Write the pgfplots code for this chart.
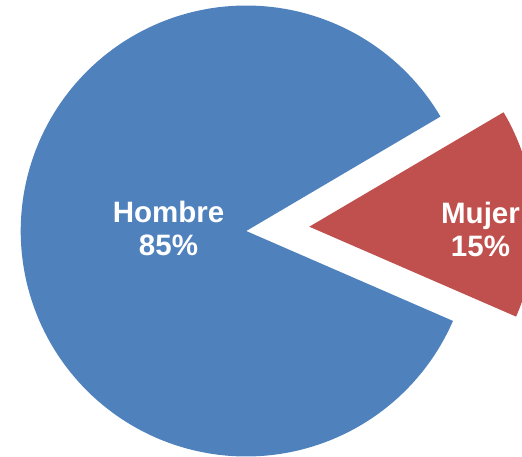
\documentclass[border=0pt]{standalone}
\usepackage{fontspec}
\setmainfont{Liberation Sans}
\usepackage{pgfplots}
\pgfplotsset{compat=1.18}
\definecolor{pieblue}{HTML}{4F81BD}
\definecolor{piered}{HTML}{C0504D}
% data (percent)
\def\valHombre{85}
\def\valMujer{15}
\def\startang{-23.5}
\pgfmathsetmacro{\redend}{\startang+\valMujer*3.6}
\pgfmathsetmacro{\blueend}{\redend+\valHombre*3.6}
\begin{document}
\begin{tikzpicture}
\useasboundingbox (0,0) rectangle (522pt,456pt);
\begin{axis}[x=1pt, y=1pt, anchor=south west, at={(0,0)},
  xmin=0, xmax=522, ymin=0, ymax=456, hide axis, clip=true]
% Hombre slice
\addplot[fill=pieblue, draw=none, domain=\redend:\blueend, samples=180]
  ({246.2+225.5*cos(x)},{225+225.5*sin(x)}) -- (axis cs:246.2,225) -- cycle;
% Mujer slice (exploded)
\addplot[fill=piered, draw=none, domain=\startang:\redend, samples=60]
  ({309.3+225.5*cos(x)},{229.3+225.5*sin(x)}) -- (axis cs:309.3,229.3) -- cycle;
\node[text=white, font=\bfseries\fontsize{29.5}{33}\selectfont, align=center]
  at (axis cs:168.5,227.5) {Hombre\\85\%};
\node[text=white, font=\bfseries\fontsize{29.5}{33}\selectfont, align=center]
  at (axis cs:480.5,227) {Mujer\\15\%};
\end{axis}
\end{tikzpicture}
\end{document}
